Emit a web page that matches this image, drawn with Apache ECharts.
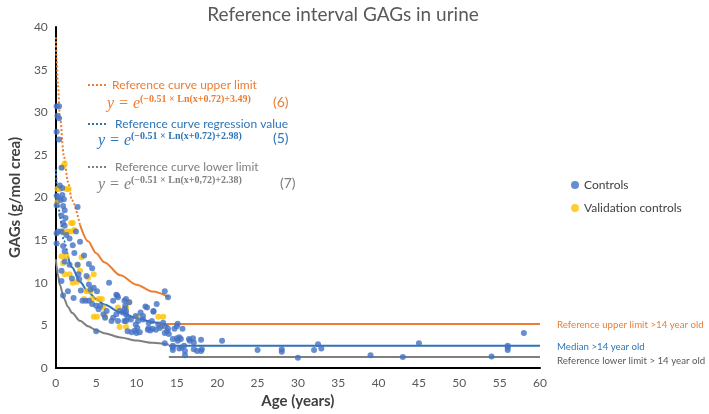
<!DOCTYPE html>
<html><head><meta charset="utf-8">
<script src="https://cdn.jsdelivr.net/npm/echarts@6/dist/echarts.min.js"></script>
<style>html,body{margin:0;padding:0;background:#fff}#c{width:709px;height:414px}</style>
</head><body><div id="c"></div>
<script>
// ---- data ----
const xTicks = [0,5,10,15,20,25,30,35,40,45,50,55,60];
const yTicks = [0,5,10,15,20,25,30,35,40];

const controls = [
[0.1,30.7],[0.4,30.7],[0.2,29.6],[0.4,29.3],[0.1,27.7],[0.4,26.8],[0.7,23.5],
[0.5,21.4],[0.8,21.1],[0.1,20.2],[0.3,20.0],[0.8,20.3],[0.6,19.7],[1.0,19.8],
[0.1,19.1],[0.9,19.0],[1.1,18.5],[0.7,17.9],[1.2,17.6],[0.9,17.0],[1.1,16.7],[0.7,16.0],
[0.1,15.8],[0.3,16.0],[1.3,15.6],[0.1,14.6],[1.7,15.2],[2.1,14.4],[0.9,14.3],[1.1,13.7],
[1.1,12.5],[1.7,12.1],[0.7,11.4],[0.7,10.2],[1.5,9.0],[0.9,8.5],[2.7,18.9],
[2.7,12.1],[4.1,12.2],[4.5,11.7],[2.9,10.4],[3.1,9.1],[4.1,9.8],[4.3,9.2],[4.7,9.4],[5.1,9.0],
[4.1,7.9],[4.5,7.5],[5.0,7.3],[5.5,7.3],[5.3,6.9],[3.3,7.9],[3.7,7.9],[5.0,4.3],
[2.3,13.5],[3.0,14.8],[2.5,16.0],[3.5,13.2],[2.8,11.0],[2.0,10.5],[3.8,10.8],[2.2,8.2],
[6.6,10.0],[7.5,8.6],[7.7,8.3],[8.5,7.9],[8.6,7.3],[8.5,6.9],[7.1,7.9],
[5.9,6.3],[6.3,6.7],[7.1,5.9],[7.5,6.3],[7.9,6.7],[8.3,6.5],[8.7,6.7],[8.7,6.3],[8.9,5.9],
[9.9,6.1],[10.5,6.5],[10.8,6.1],[10.8,5.7],[12.1,6.7],[12.5,7.5],[11.3,7.1],[13.5,9.0],[13.9,8.3],
[6.1,5.9],[6.9,5.5],[7.7,5.5],[8.7,5.5],[9.3,5.7],[10.2,5.5],[11.5,5.3],[11.9,5.5],[12.7,5.1],[13.3,5.3],
[8.5,5.5],[8.9,4.3],[9.4,4.2],[9.8,4.4],[10.0,4.1],[10.4,4.2],[10.1,4.7],[9.9,5.1],
[11.4,4.5],[11.7,4.4],[12.0,4.6],[12.4,4.5],[12.9,4.7],[11.5,4.7],
[13.9,4.6],[14.7,4.6],[15.7,4.6],[15.1,5.2],[13.5,4.9],[15.0,4.9],
[7.6,8.5],[8.7,8.1],[9.1,7.7],[11.1,7.2],[12.1,6.6],
[13.5,4.1],[13.8,4.3],[14.0,4.0],[13.5,2.9],[14.5,3.4],[14.5,2.6],[14.5,2.4],[14.5,2.1],
[15.0,3.5],[15.1,3.2],[15.3,3.6],[15.5,3.4],[15.3,2.3],[15.6,2.4],[15.9,2.6],[16.0,1.5],[16.0,2.0],
[16.6,3.2],[16.5,3.4],[17.0,3.5],[17.1,3.0],[17.1,2.2],[17.5,2.0],[18.0,3.3],[18.0,2.0],[18.1,2.2],
[20.6,3.2],[25.0,2.1],[28.0,2.2],[28.0,1.9],[30.0,1.2],[32.0,2.1],[32.5,2.8],[32.9,2.3],
[39.0,1.5],[43.0,1.3],[45.0,2.9],[54.0,1.35],[56.0,2.6],[56.0,2.4],[56.0,2.1],[58.0,4.1]
];

const validation = [
[0.2,21.0],[0.5,21.0],[1.1,24.0],[0.9,23.6],[1.3,21.0],[1.6,21.0],[0.2,19.5],[2.1,17.0],[1.9,17.0],
[0.9,16.0],[1.5,16.0],[1.9,16.0],[1.3,15.9],[0.7,13.1],[1.3,13.1],[0.9,12.3],[1.1,11.0],[1.7,11.0],[2.1,10.0],
[2.7,12.1],[4.7,11.0],[2.6,10.1],[3.8,9.0],[4.3,9.0],[3.5,8.1],[4.5,8.1],[5.3,8.1],[5.7,8.1],[5.9,7.1],
[4.7,6.0],[5.1,6.0],[6.1,6.0],[9.1,7.7],[7.7,7.1],[8.7,7.1],[10.1,6.0],[7.9,4.8],[8.7,4.8],
[12.7,6.0],[13.3,6.0],[13.1,5.0],[13.0,4.9],[2.3,16.2],[3.2,13.0],[3.0,11.4],[4.0,10.6]
];

// reference curves, values read at these ages
const curveAges   = [0, 0.1, 0.25, 0.5, 1, 1.5, 2, 3, 4, 5, 6, 8, 10, 12, 14];
const upperCurve  = [38.77, 36.28, 33.30, 29.63, 24.87, 21.83, 19.68, 16.78, 14.86, 13.47, 12.41, 10.87, 9.78, 8.96, 8.32];
const medianCurve = [23.28, 21.79, 20.00, 17.79, 14.93, 13.11, 11.82, 10.08, 8.92, 8.09, 7.45, 6.53, 5.87, 5.38, 5.00];
const lowerCurve  = [12.77, 11.95, 10.97, 9.76, 8.19, 7.19, 6.48, 5.53, 4.89, 4.44, 4.09, 3.58, 3.22, 2.95, 2.74];
const upperDashEnd = 3;    // age where the dotted part ends
const medianDashEnd = 1.5;

const adultStart = [13.7, 14, 14];
const adultEnd = 60;
const adultUpper = 5.15, adultMedian = 2.6, adultLower = 1.28;

// ---- build ----
const BLUE = '#4472C4', YEL = '#FFC000', OR = '#ED7D31', GR = '#7F7F7F', BL2 = '#2E75B6';
function pts(vals, from, to){
  const out=[];
  curveAges.forEach((a,i)=>{ if(a>=from && a<=to) out.push([a, vals[i]]); });
  return out;
}
function lineS(name, data, color, type, z){
  return {name, type:'line', data, showSymbol:false, symbol:'none', smooth:0.3, smoothMonotone:'x',
    lineStyle:{color, width:2, type}, silent:true, z:z||2, animation:false};
}
const F = 'Lato, "Open Sans", sans-serif';
const SERIF = '"Liberation Serif", "DejaVu Serif", serif';

const series = [
  lineS('u1', pts(upperCurve,0,upperDashEnd), OR, 'dotted'),
  lineS('u2', pts(upperCurve,upperDashEnd,14), OR, 'solid'),
  lineS('m1', pts(medianCurve,0,medianDashEnd), BL2, 'dotted'),
  lineS('m2', pts(medianCurve,medianDashEnd,14), BL2, 'solid'),
  lineS('l1', pts(lowerCurve,0,14), GR, 'solid'),
  lineS('hu', [[adultStart[0],adultUpper],[adultEnd,adultUpper]], OR, 'solid'),
  lineS('hm', [[adultStart[1],adultMedian],[adultEnd,adultMedian]], BL2, 'solid'),
  lineS('hl', [[adultStart[2],adultLower],[adultEnd,adultLower]], GR, 'solid'),
  {name:'Controls', type:'scatter', data:controls, symbolSize:6, itemStyle:{color:BLUE}, z:4},
  {name:'Validation controls', type:'scatter', data:validation, symbolSize:6, itemStyle:{color:YEL}, z:3}
];

function txt(x,y,text,color,size,extra){
  return {type:'text', z:10, style:Object.assign({x,y,text,fill:color,fontSize:size,fontFamily:F,verticalAlign:'middle',align:'left'}, extra||{})};
}
function dots(x,y,color){
  return {type:'line', z:10, shape:{x1:x,y1:y,x2:x+18,y2:y}, style:{stroke:color,lineWidth:2,lineDash:[2,2]}};
}
function formula(x,y,sup,color){
  return [
    txt(x,y,'y = e',color,16,{fontFamily:SERIF,fontStyle:'italic'}),
    txt(x+33,y-5,sup,color,10,{fontFamily:SERIF,fontWeight:'bold'})
  ];
}

const graphic = [
  dots(88,85,OR), txt(112,85,'Reference curve upper limit',OR,12),
  ...formula(107,104,'(−0.51 × Ln(x+0.72)+3.49)',OR), txt(273,102,'(6)',OR,14),
  dots(88,124,BL2), txt(115,124,'Reference curve regression value',BL2,12),
  ...formula(98,141,'(−0.51 × Ln(x+0.72)+2.98)',BL2), txt(273,138,'(5)',BL2,14),
  dots(88,167,GR), txt(115,167,'Reference curve lower limit',GR,12),
  ...formula(98,185,'(−0.51 × Ln(x+0,72)+2.38)',GR), txt(280,183,'(7)',GR,14),
  txt(557,325,'Reference upper limit >14 year old',OR,9.7),
  txt(557,347,'Median >14 year old',BL2,9.7),
  txt(557,361,'Reference lower limit > 14 year old','#595959',9.7)
];

const chart = echarts.init(document.getElementById('c'));
chart.setOption({
  animation:false,
  backgroundColor:'#fff',
  title:{text:'Reference interval GAGs in urine', left:338, textAlign:'center', top:0,
    textStyle:{fontFamily:F, fontSize:19, fontWeight:'normal', color:'#595959'}},
  grid:{left:41, right:169, top:27, bottom:43},
  legend:{data:['Controls','Validation controls'], orient:'vertical', left:566, top:174,
    icon:'circle', itemWidth:8, itemHeight:8, itemGap:11,
    textStyle:{fontFamily:F, fontSize:12, color:'#404040'}},
  xAxis:{type:'value', min:0, max:60, interval:5, name:'Age (years)', nameLocation:'middle', nameGap:26,
    nameTextStyle:{fontFamily:F, fontSize:15, fontWeight:'bold', color:'#404040'},
    axisLine:{lineStyle:{color:'#000', width:2}}, axisTick:{show:false}, splitLine:{show:false},
    axisLabel:{fontFamily:F, fontSize:12, color:'#595959', margin:9,
      formatter:v=>xTicks.includes(v)?String(v):''}},
  yAxis:{type:'value', min:0, max:40, interval:5, name:'GAGs (g/mol crea)', nameLocation:'middle', nameGap:27,
    nameTextStyle:{fontFamily:F, fontSize:15, fontWeight:'bold', color:'#404040'},
    axisLine:{show:true, lineStyle:{color:'#000', width:2}}, axisTick:{show:false}, splitLine:{show:false},
    axisLabel:{fontFamily:F, fontSize:12, color:'#595959', margin:8,
      formatter:v=>yTicks.includes(v)?String(v):''}},
  graphic,
  series
});
</script></body></html>
